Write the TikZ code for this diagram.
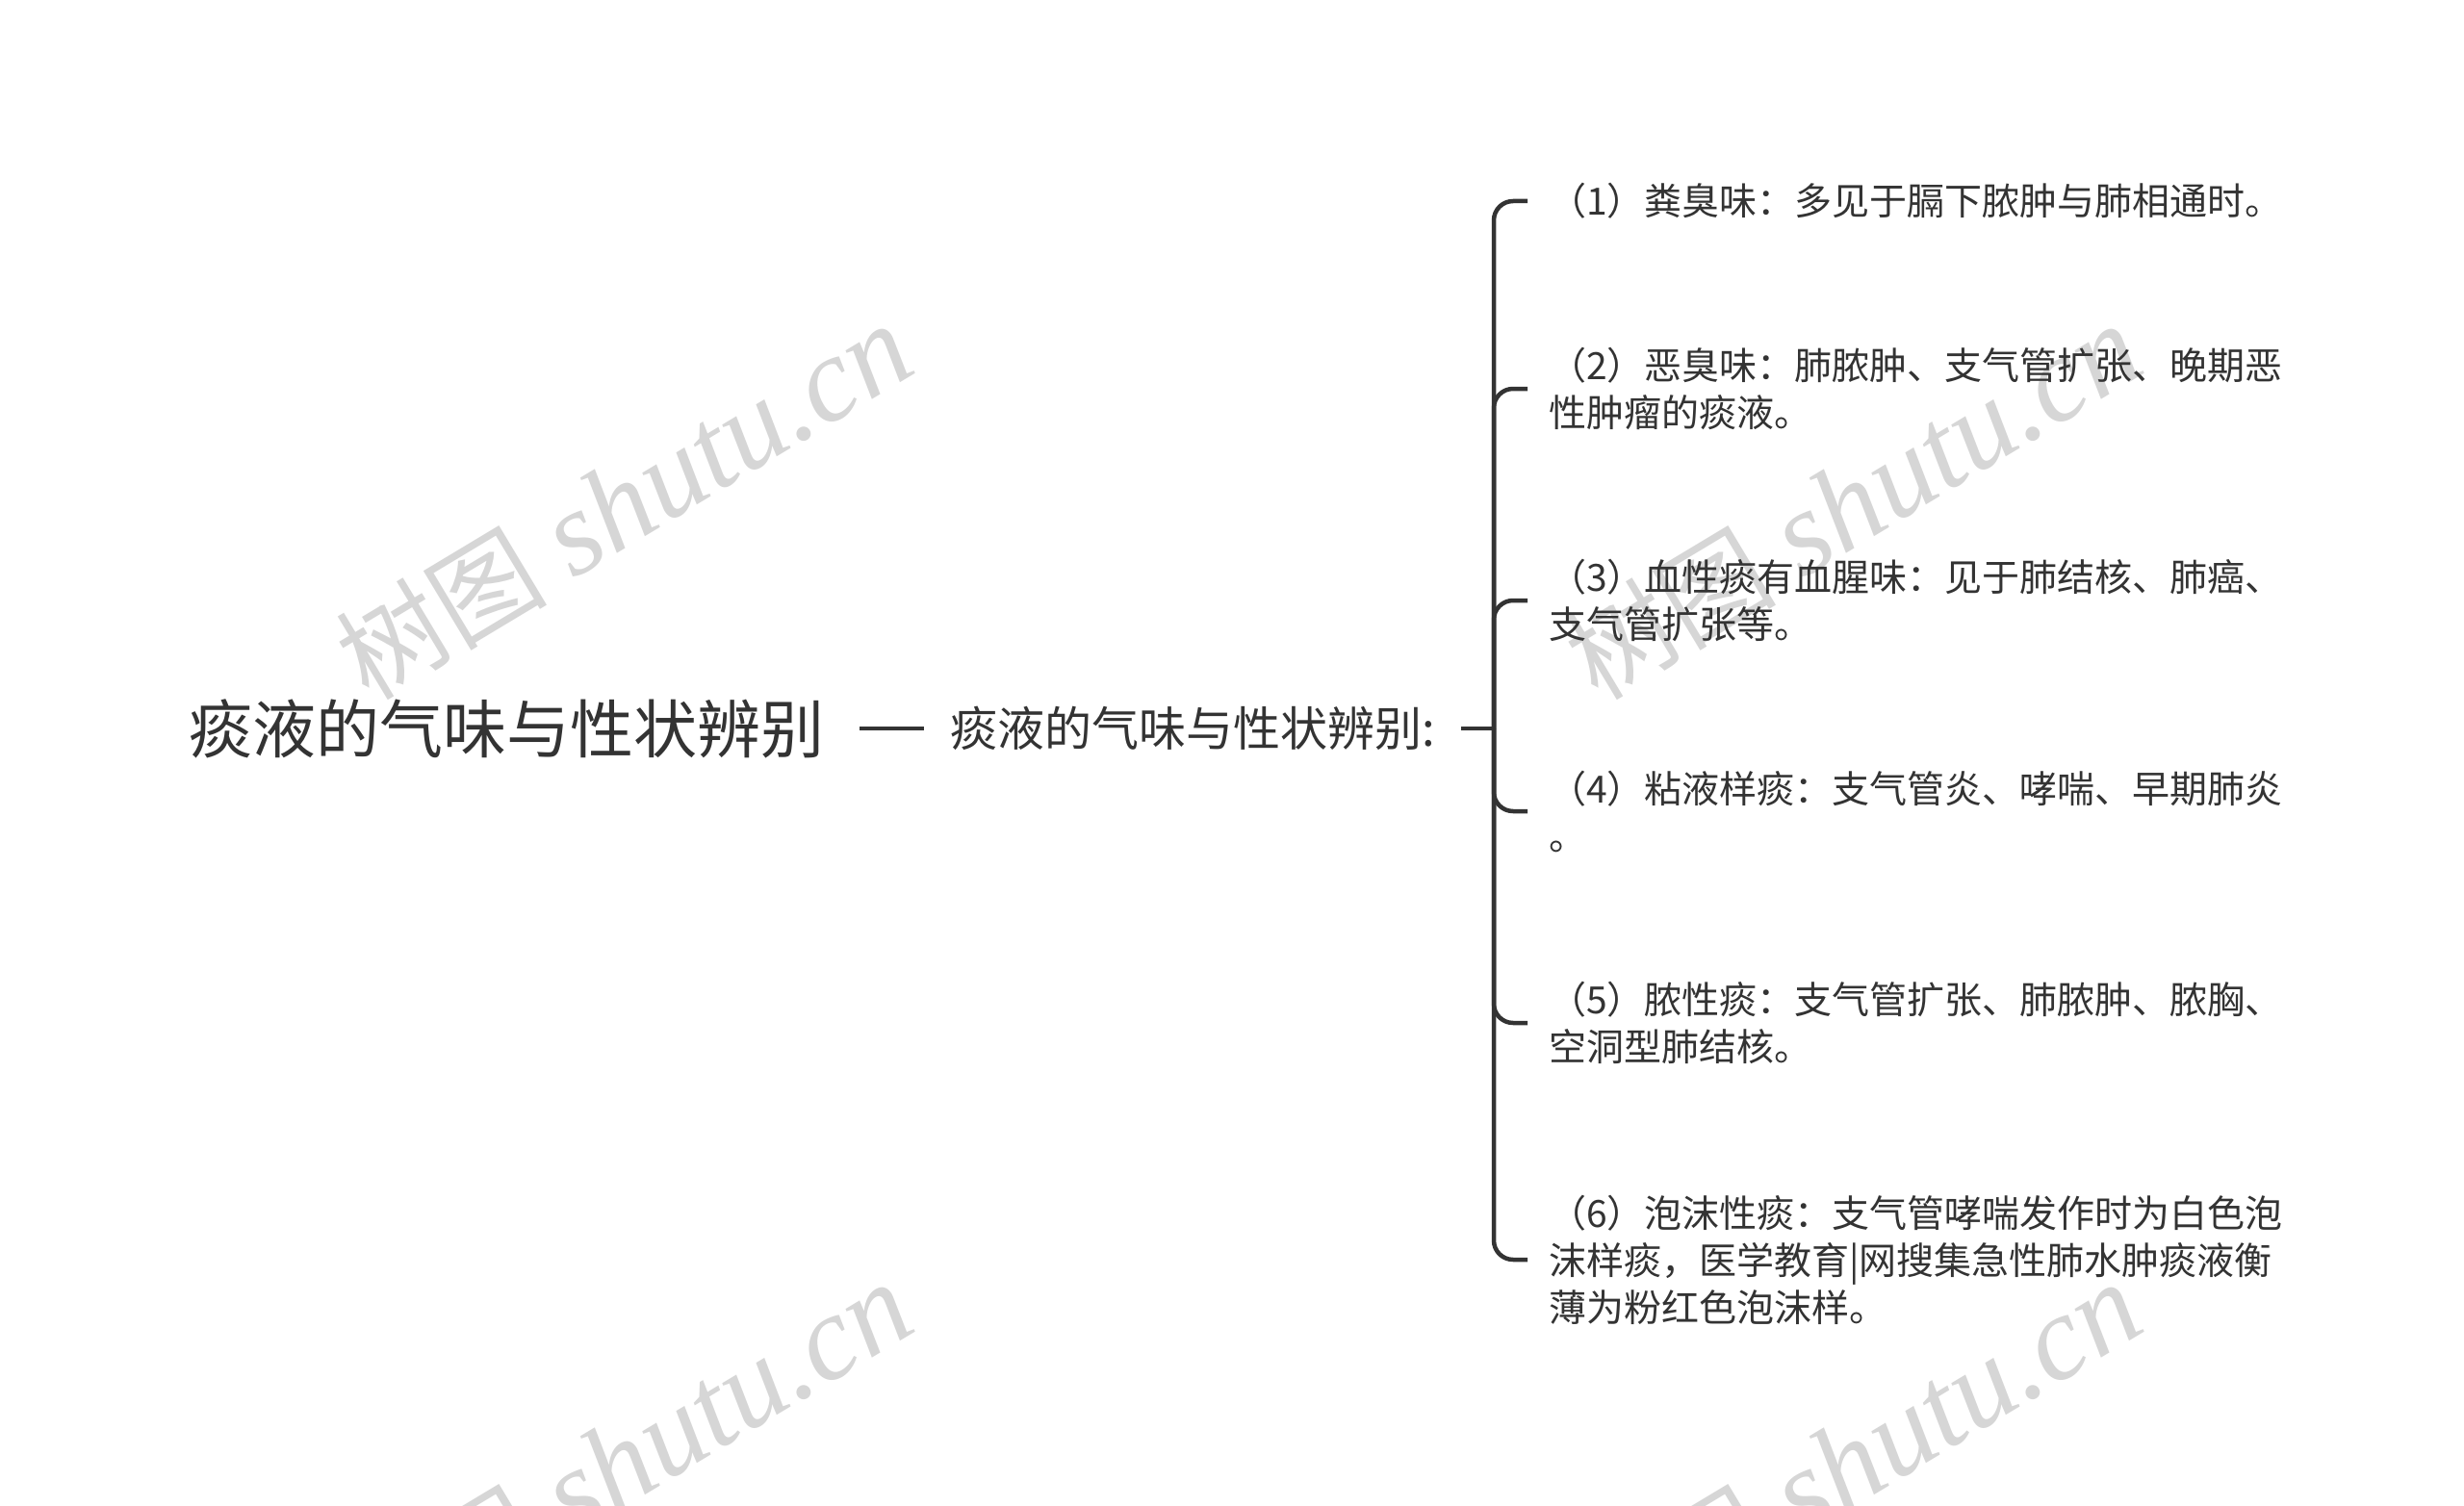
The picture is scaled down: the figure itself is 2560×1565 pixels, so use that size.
\documentclass[tikz,border=0pt]{standalone}
\usepackage{fontspec}
\newfontfamily\cjk{Noto Sans CJK SC}
\newfontfamily\wmserif{Liberation Serif}
\definecolor{ink}{HTML}{333333}
\definecolor{wm}{HTML}{D6D6D6}
\newcommand{\wmtext}{{\cjk\fontsize{110}{120}\selectfont 树图}\hspace{28pt}{\wmserif\itshape\fontsize{125}{130}\selectfont shutu.cn}}
\begin{document}
\begin{tikzpicture}[x=1pt,y=-1pt,
  link/.style={draw=ink, line width=4.5pt},
  branch/.style={link, rounded corners=20pt},
  rootbox/.style={inner xsep=37pt, inner ysep=0pt, text=ink, font=\cjk\fontsize{66}{80}\selectfont},
  midbox/.style={anchor=west, inner xsep=27pt, inner ysep=0pt, text=ink, font=\cjk\fontsize{49}{58}\selectfont},
  leaf/.style={anchor=west, inner xsep=22pt, inner ysep=0pt, text=ink, align=left, font=\cjk\fontsize{39}{49}\selectfont},
  wmark/.style={rotate=31, text=wm, inner sep=0pt}
]
\useasboundingbox (0,0) rectangle (2560,1565);
\fill[white] (0,0) rectangle (2560,1565);

% watermarks
\node[wmark] (wm1) at (648,522) {\wmtext};
\node[wmark] (wm2) at (1925,522) {\wmtext};
\node[wmark] (wm3) at (648,1518) {\wmtext};
\node[wmark] (wm4) at (1925,1518) {\wmtext};

% nodes
\node[rootbox] (root) at (526,757) {痰液的气味与性状辨别};
\node[midbox] (mid) at (960,757) {痰液的气味与性状辨别:};
\coordinate (bx) at (1552,757);

\node[leaf] (c1) at (1587,209) {（1）粪臭味：多见于膈下脓肿与肺相通时。};
\node[leaf] (c2) at (1587,404) {（2）恶臭味：肺脓肿、支气管扩张、晚期恶\\性肿瘤的痰液。};
\node[leaf] (c3) at (1587,624) {（3）血性痰有血腥味：见于肺结核、肺癌、\\支气管扩张等。};
\node[leaf] (c4) at (1587,843) {（4）粘液样痰：支气管炎、哮喘、早期肺炎\\。};
\node[leaf] (c5) at (1587,1063) {（5）脓性痰：支气管扩张、肺脓肿、脓胸、\\空洞型肺结核。};
\node[leaf] (c6) at (1587,1309) {（6）泡沫性痰：支气管哮喘发作时为白色泡\\沫样痰，医学教育|网搜集急性肺水肿痰液衡\\薄为粉红色泡沫样。};

% connectors
\draw[link] (root.east) -- (mid.west);
\draw[link] (mid.east) -- (bx);
\foreach \c in {c1,c2,c3,c4,c5,c6}
  \draw[branch] (bx) |- (\c.west);
\end{tikzpicture}
\end{document}
